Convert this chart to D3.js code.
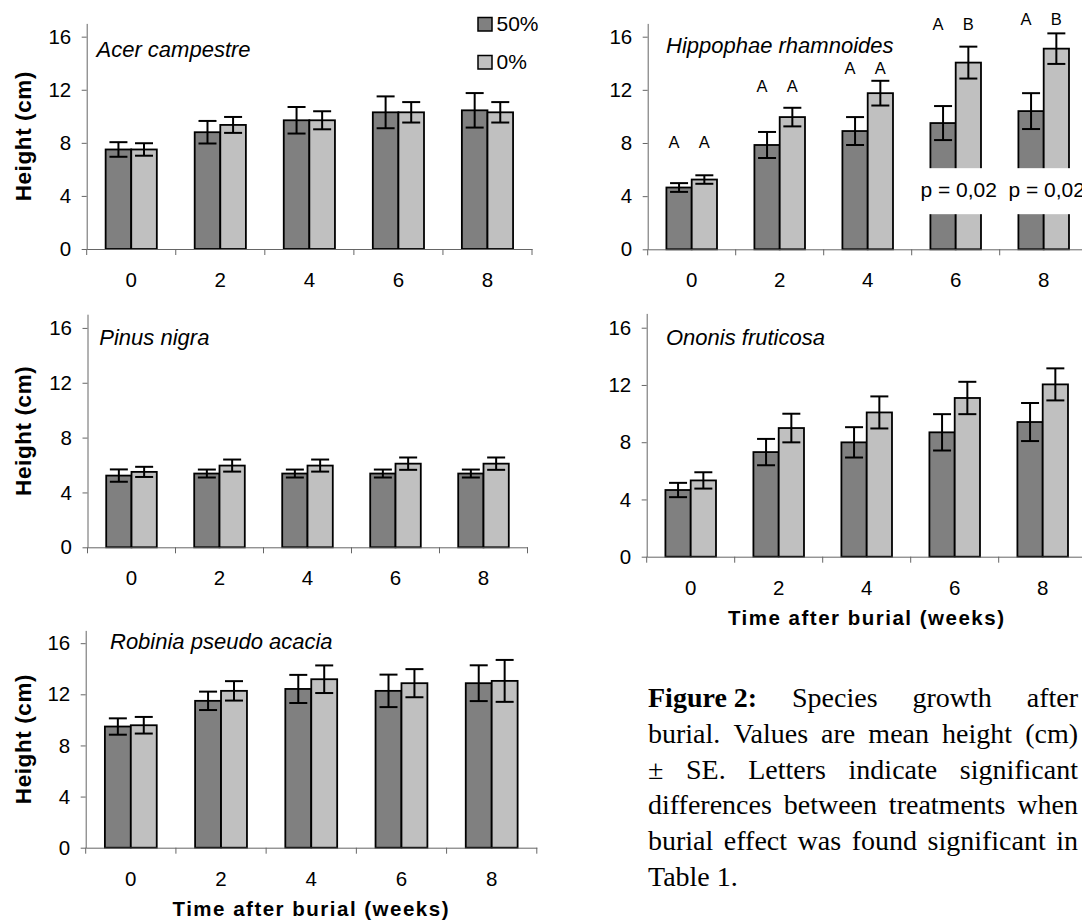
<!DOCTYPE html>
<html>
<head>
<meta charset="utf-8">
<script src="https://cdn.jsdelivr.net/npm/d3@7"></script>
<style>
  body { margin: 0; background: #fff; }
  svg { display: block; font-family: "Liberation Sans", Arial, sans-serif; }
</style>
</head>
<body>
<svg id="fig" width="1082" height="920"></svg>
<script>
// values: mean height (cm) and SE, per week after burial
const weeks = ["0", "2", "4", "6", "8"];
const treatments = ["50%", "0%"];
const yTicks = [0, 4, 8, 12, 16];

const acer50 = [7.5, 8.8, 9.7, 10.3, 10.45];
const acerSE50 = [0.55, 0.85, 1.0, 1.2, 1.3];
const acer0 = [7.5, 9.35, 9.7, 10.3, 10.3];
const acerSE0 = [0.47, 0.6, 0.68, 0.77, 0.77];

const hippo50 = [4.65, 7.85, 8.9, 9.5, 10.4];
const hippoSE50 = [0.33, 0.98, 1.05, 1.28, 1.35];
const hippo0 = [5.25, 9.95, 11.75, 14.05, 15.1];
const hippoSE0 = [0.32, 0.7, 0.93, 1.2, 1.15];

const pinus50 = [5.23, 5.38, 5.38, 5.38, 5.38];
const pinusSE50 = [0.45, 0.29, 0.29, 0.29, 0.29];
const pinus0 = [5.5, 5.96, 5.96, 6.1, 6.1];
const pinusSE0 = [0.37, 0.44, 0.44, 0.45, 0.45];

const ononis50 = [4.66, 7.31, 7.99, 8.69, 9.41];
const ononisSE50 = [0.5, 0.92, 1.06, 1.27, 1.33];
const ononis0 = [5.33, 8.99, 10.08, 11.09, 12.04];
const ononisSE0 = [0.57, 1.0, 1.12, 1.13, 1.12];

const robinia50 = [9.48, 11.49, 12.42, 12.27, 12.87];
const robiniaSE50 = [0.64, 0.72, 1.1, 1.27, 1.4];
const robinia0 = [9.58, 12.27, 13.18, 12.87, 13.05];
const robiniaSE0 = [0.65, 0.76, 1.08, 1.1, 1.64];

// significance letters for Hippophae (height level in cm where they sit)
const hippoLetters50 = ["A", "A", "A", "A", "A"];
const hippoLetters0 = ["A", "A", "A", "B", "B"];
const hippoLetterLevel = [7.6, 11.8, 13.2, 16.5, 16.9];
const hippoPValues = ["", "", "", "p = 0,02", "p = 0,02"];
const hippoPLevel = 3.96;

const captionLines = [
    [{ t: "Figure\u00a02:", b: true }, { t: "Species" }, { t: "growth" }, { t: "after" }],
    [{ t: "burial." }, { t: "Values" }, { t: "are" }, { t: "mean" }, { t: "height" }, { t: "(cm)" }],
    [{ t: "±" }, { t: "SE." }, { t: "Letters" }, { t: "indicate" }, { t: "significant" }],
    [{ t: "differences" }, { t: "between" }, { t: "treatments" }, { t: "when" }],
    [{ t: "burial" }, { t: "effect" }, { t: "was" }, { t: "found" }, { t: "significant" }, { t: "in" }],
    [{ t: "Table" }, { t: "1." }]
];

const fillColor = { "50%": "#808080", "0%": "#c0c0c0" };
const axisColor = "#666";

const svg = d3.select("#fig");
svg.append("rect").attr("width", 1082).attr("height", 920).attr("fill", "#fff");

// panel placement (pixels)
const panels = [
    { name: "Acer campestre", m50: acer50, s50: acerSE50, m0: acer0, s0: acerSE0,
      left: 86.7, right: 532, bottom: 249, top: 23.4, labelX: 96.5, labelY: 57, yTitle: true },
    { name: "Hippophae rhamnoides", m50: hippo50, s50: hippoSE50, m0: hippo0, s0: hippoSE0,
      left: 647.7, right: 1087.7, bottom: 249.3, top: 23.4, labelX: 666, labelY: 53 },
    { name: "Pinus nigra", m50: pinus50, s50: pinusSE50, m0: pinus0, s0: pinusSE0,
      left: 87.5, right: 527.5, bottom: 547.3, top: 314.2, labelX: 99.3, labelY: 345, yTitle: true },
    { name: "Ononis fruticosa", m50: ononis50, s50: ononisSE50, m0: ononis0, s0: ononisSE0,
      left: 646.7, right: 1086.7, bottom: 556.7, top: 313.4, labelX: 666, labelY: 345, xTitle: true },
    { name: "Robinia pseudo acacia", m50: robinia50, s50: robiniaSE50, m0: robinia0, s0: robiniaSE0,
      left: 85.7, right: 536.8, bottom: 847.7, top: 630.4, labelX: 110, labelY: 649, yTitle: true, xTitle: true }
];
const tickFont = 20.5, labelFont = 22;

panels.forEach(drawPanel);

function drawPanel(p) {
    const g = svg.append("g");
    const x0 = d3.scaleBand().domain(weeks).range([p.left, p.right]).padding(0);
    const x1 = d3.scaleBand().domain(treatments).range([0, x0.bandwidth()]).paddingInner(0).paddingOuter(0.74);
    const y = d3.scaleLinear().domain([0, 17]).range([p.bottom, p.top]);

    const rows = [];
    weeks.forEach((w, i) => {
        rows.push({ w: w, t: "50%", m: p.m50[i], se: p.s50[i] });
        rows.push({ w: w, t: "0%", m: p.m0[i], se: p.s0[i] });
    });

    // bars
    g.selectAll("rect.bar").data(rows).join("rect")
        .attr("class", "bar")
        .attr("x", d => x0(d.w) + x1(d.t))
        .attr("y", d => y(d.m))
        .attr("width", x1.bandwidth())
        .attr("height", d => y(0) - y(d.m))
        .attr("fill", d => fillColor[d.t])
        .attr("stroke", "#000")
        .attr("stroke-width", 1.8);

    // y axis
    const ya = g.append("g")
        .attr("transform", "translate(" + p.left + ",0)")
        .call(d3.axisLeft(y).tickValues(yTicks).tickSize(5).tickPadding(10.5).tickSizeOuter(0));
    ya.attr("font-size", null).attr("font-family", null);
    ya.select(".domain").attr("stroke", axisColor);
    ya.selectAll(".tick line").attr("stroke", axisColor);
    ya.selectAll(".tick text").attr("fill", "#000").style("font-size", tickFont + "px");

    // x axis: labels at band centres, ticks at band boundaries
    const xa = g.append("g")
        .attr("transform", "translate(0," + p.bottom + ")")
        .call(d3.axisBottom(x0).tickSize(0).tickPadding(38 - 0.71 * tickFont).tickSizeOuter(0));
    xa.attr("font-size", null).attr("font-family", null);
    xa.select(".domain").attr("stroke", axisColor);
    xa.selectAll(".tick text").attr("fill", "#000").style("font-size", tickFont + "px");
    const bounds = weeks.map(w => x0(w)).concat([x0.range()[1]]);
    g.selectAll("line.btick").data(bounds).join("line")
        .attr("class", "btick")
        .attr("x1", d => d).attr("x2", d => d)
        .attr("y1", p.bottom).attr("y2", p.bottom + 6)
        .attr("stroke", axisColor);

    // error bars
    const cap = 9;
    const eb = g.selectAll("g.err").data(rows).join("g").attr("class", "err")
        .attr("stroke", "#000").attr("stroke-width", 2);
    const cx = d => x0(d.w) + x1(d.t) + x1.bandwidth() / 2;
    eb.append("line").attr("x1", cx).attr("x2", cx)
        .attr("y1", d => y(d.m + d.se)).attr("y2", d => y(d.m - d.se));
    eb.append("line").attr("x1", d => cx(d) - cap).attr("x2", d => cx(d) + cap)
        .attr("y1", d => y(d.m + d.se)).attr("y2", d => y(d.m + d.se));
    eb.append("line").attr("x1", d => cx(d) - cap).attr("x2", d => cx(d) + cap)
        .attr("y1", d => y(d.m - d.se)).attr("y2", d => y(d.m - d.se));

    // species name
    g.append("text")
        .attr("x", p.labelX).attr("y", p.labelY)
        .style("font-size", labelFont + "px").style("font-style", "italic")
        .text(p.name);

    if (p.yTitle) {
        g.append("text")
            .attr("transform", "translate(31," + ((p.bottom + p.top) / 2) + ") rotate(-90)")
            .attr("text-anchor", "middle")
            .style("font-size", "22.5px").style("font-weight", "bold").style("letter-spacing", "0.6px")
            .text("Height (cm)");
    }
    if (p.xTitle) {
        g.append("text")
            .attr("x", (p.left + p.right) / 2).attr("y", p.bottom + 68)
            .attr("text-anchor", "middle")
            .style("font-size", "20.5px").style("font-weight", "bold").style("letter-spacing", "1.5px")
            .text("Time after burial (weeks)");
    }
    p.x0 = x0; p.x1 = x1; p.y = y; p.g = g;
}

// Hippophae annotations
(function () {
    const p = panels[1];
    const ann = svg.append("g");
    const lx = (w, t) => p.x0(w) + p.x1(t) + p.x1.bandwidth() / 2 + (t === "50%" ? -5 : 0);
    weeks.forEach((w, i) => {
        ann.append("text").attr("x", lx(w, "50%")).attr("y", p.y(hippoLetterLevel[i]))
            .attr("text-anchor", "middle").style("font-size", "16.5px").text(hippoLetters50[i]);
        ann.append("text").attr("x", lx(w, "0%")).attr("y", p.y(hippoLetterLevel[i]))
            .attr("text-anchor", "middle").style("font-size", "16.5px").text(hippoLetters0[i]);
        if (hippoPValues[i]) {
            const cxp = p.x0(w) + p.x0.bandwidth() / 2 + 3;
            const by = p.y(hippoPLevel);
            const box = ann.append("rect").attr("fill", "#fff");
            const txt = ann.append("text").attr("x", cxp).attr("y", by)
                .attr("text-anchor", "middle").style("font-size", "21px").text(hippoPValues[i]);
            const wdt = txt.node().getComputedTextLength();
            box.attr("x", cxp - wdt / 2 - 5).attr("y", by - 28.5)
                .attr("width", wdt + 10).attr("height", 46);
        }
    });
})();

// legend
const legend = svg.append("g");
treatments.forEach((t, i) => {
    legend.append("rect").attr("x", 478).attr("y", 17.5 + i * 38).attr("width", 14).attr("height", 13.5)
        .attr("fill", fillColor[t]).attr("stroke", "#000").attr("stroke-width", 1.5);
    legend.append("text").attr("x", 496.5).attr("y", 30.5 + i * 38).style("font-size", "21px").text(t);
});

// caption, justified like the original text block
const capG = svg.append("g").style("font-family", "'Liberation Serif', 'Times New Roman', serif").style("font-size", "28px");
const capLeft = 648, capRight = 1078, capTop = 707, capStep = 35.8;
captionLines.forEach((line, li) => {
    const nodes = line.map(wd => capG.append("text")
        .attr("y", capTop + li * capStep)
        .style("font-weight", wd.b ? "bold" : "normal")
        .text(wd.t));
    const widths = nodes.map(n => n.node().getComputedTextLength());
    const total = d3.sum(widths);
    const justify = li < captionLines.length - 1;
    const gap = justify ? (capRight - capLeft - total) / (nodes.length - 1) : 7;
    let xx = capLeft;
    nodes.forEach((n, k) => { n.attr("x", xx); xx += widths[k] + gap; });
});
</script>
</body>
</html>
